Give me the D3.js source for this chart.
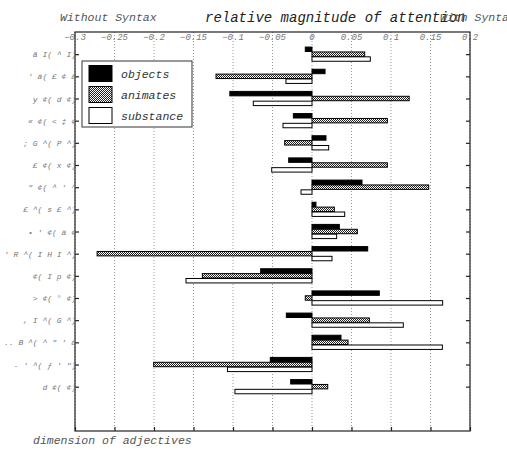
<!DOCTYPE html>
<html>
<head>
<meta charset="utf-8">
<script src="https://cdn.jsdelivr.net/npm/d3@7"></script>
<style>
  html, body { margin: 0; padding: 0; background: #fff; overflow: hidden; }
  svg { display: block; }
  text { font-family: "Liberation Mono", "DejaVu Sans Mono", monospace; font-style: italic; }
</style>
</head>
<body>
<svg id="chart" width="507" height="451"></svg>
<script>
// category labels (garbled adjective names, as in the source)
const categories = [
  "ã I( ^ I)",
  "' ä( £ ¢ ä",
  "y ¢( d ¢)",
  "« ¢( < ‡ ¢",
  "; G ^( P   ^)",
  "£   ¢( x ¢)",
  "\"   ¢( ^ ' ^",
  "£ ^( s   £ ^)",
  "• ' ¢(   ä ¢",
  "' R ^( I H I ^)",
  "¢( I p ¢)",
  "> ¢( ° ¢)",
  ", I ^( G ^)",
  "^ .. B ^( ^ \" ' ä",
  "-     ' ^( ƒ     ' \")",
  "d ¢(     ¢)"
];

const objects   = [-0.0085, 0.0165, -0.104, -0.0236, 0.0177, -0.0295, 0.0633, 0.005, 0.0346, 0.0705, -0.065, 0.0852, -0.0325, 0.0367, -0.0528, -0.027];
const animates  = [0.0667, -0.1215, 0.123, 0.0954, -0.0346, 0.0954, 0.1477, 0.0283, 0.0574, -0.272, -0.1388, -0.0085, 0.0726, 0.0456, -0.2004, 0.0199];
const substance = [0.0738, -0.033, -0.0743, -0.0367, 0.0211, -0.051, -0.0139, 0.0414, 0.0312, 0.0253, -0.1595, 0.1654, 0.1156, 0.165, -0.107, -0.0975];

const seriesNames = ["objects", "animates", "substance"];
const xTicks = [-0.3, -0.25, -0.2, -0.15, -0.1, -0.05, 0, 0.05, 0.1, 0.15, 0.2];

const svg = d3.select("#chart");
const box = { left: 75, right: 470, top: 32, bottom: 431 };

const x = d3.scaleLinear().domain([-0.3, 0.2]).range([box.left, box.right]);
// categories sit at 1..16 on a 0..18 axis, top to bottom
const y = d3.scaleLinear().domain([0, 18]).range([box.top, box.bottom]);
const barOffset = d3.scaleLinear().domain([0, 2]).range([-0.22, 0.22]);
const barH = y(0.2) - y(0);

// hatched fill for "animates"
const defs = svg.append("defs");
const pat = defs.append("pattern")
  .attr("id", "hatch").attr("width", 2).attr("height", 2)
  .attr("patternUnits", "userSpaceOnUse");
pat.append("rect").attr("width", 2).attr("height", 2).attr("fill", "#fff");
pat.append("rect").attr("x", 0).attr("y", 0).attr("width", 1).attr("height", 1).attr("fill", "#222");
pat.append("rect").attr("x", 1).attr("y", 1).attr("width", 1).attr("height", 1).attr("fill", "#222");

const fills = ["#000", "url(#hatch)", "#fff"];

// dotted grid
svg.append("g")
  .selectAll("line")
  .data(xTicks)
  .join("line")
    .attr("x1", d => x(d)).attr("x2", d => x(d))
    .attr("y1", box.top).attr("y2", box.bottom)
    .attr("stroke", "#999")
    .attr("stroke-width", 1)
    .attr("stroke-dasharray", "1,2");

// tick labels along the top, inside the box
svg.append("g")
  .selectAll("text")
  .data(xTicks)
  .join("text")
    .attr("x", d => x(d))
    .attr("y", box.top + 8)
    .attr("text-anchor", "middle")
    .attr("font-size", "9px")
    .attr("fill", "#777")
    .text(d => d3.format("")(d));

// bars
const groups = [objects, animates, substance];
groups.forEach((vals, s) => {
  svg.append("g")
    .selectAll("rect")
    .data(vals)
    .join("rect")
      .attr("x", d => x(Math.min(0, d)))
      .attr("width", d => Math.abs(x(d) - x(0)))
      .attr("y", (d, i) => y(i + 1 + barOffset(s)) - barH / 2)
      .attr("height", barH)
      .attr("fill", fills[s])
      .attr("stroke", "#000")
      .attr("stroke-width", 1);
});

// axes box
svg.append("rect")
  .attr("x", box.left).attr("y", box.top)
  .attr("width", box.right - box.left).attr("height", box.bottom - box.top)
  .attr("fill", "none").attr("stroke", "#222").attr("stroke-width", 1.2);

// bottom inward ticks
svg.append("g")
  .attr("transform", `translate(0,${box.bottom})`)
  .call(d3.axisTop(x).tickValues(xTicks).tickSize(4).tickFormat(""))
  .call(g => g.select(".domain").remove())
  .selectAll("line").attr("stroke", "#222").attr("stroke-width", 1.2);

// left ticks + labels
const left = svg.append("g")
  .attr("transform", `translate(${box.left},0)`)
  .call(d3.axisRight(y).tickValues(d3.range(1, categories.length + 1)).tickSize(4)
    .tickFormat(d => categories[d - 1]).tickPadding(-3))
  .call(g => g.select(".domain").remove());
left.selectAll("line").attr("stroke", "#222").attr("stroke-width", 1.2);
left.selectAll("text")
  .attr("text-anchor", "end")
  .attr("x", 1)
  .attr("font-size", "8px")
  .attr("fill", "#777")
  .attr("font-family", null);

// right inward ticks
svg.append("g")
  .attr("transform", `translate(${box.right},0)`)
  .call(d3.axisLeft(y).tickValues(d3.range(1, categories.length + 1)).tickSize(4).tickFormat(""))
  .call(g => g.select(".domain").remove())
  .selectAll("line").attr("stroke", "#222").attr("stroke-width", 1.2);

// titles
svg.append("text").attr("x", 60).attr("y", 21)
  .attr("font-size", "11.5px").attr("fill", "#555").text("Without Syntax");
svg.append("text").attr("x", 205).attr("y", 22)
  .attr("font-size", "14px").attr("fill", "#222").text("relative magnitude of attention");
svg.append("text").attr("x", 440).attr("y", 21)
  .attr("font-size", "11.5px").attr("fill", "#555").text("With Syntax");
svg.append("text").attr("x", 33).attr("y", 444)
  .attr("font-size", "11.5px").attr("fill", "#555").text("dimension of adjectives");

// legend
const legend = svg.append("g").attr("transform", "translate(82,61)");
legend.append("rect")
  .attr("width", 110).attr("height", 66)
  .attr("fill", "#fff").attr("stroke", "#333").attr("stroke-width", 1);
seriesNames.forEach((name, s) => {
  legend.append("rect")
    .attr("x", 7).attr("y", 4.5 + s * 21)
    .attr("width", 23).attr("height", 16)
    .attr("fill", fills[s]).attr("stroke", "#000").attr("stroke-width", 1);
  legend.append("text")
    .attr("x", 39).attr("y", 17 + s * 21)
    .attr("font-size", "11.5px").attr("fill", "#333")
    .text(name);
});
</script>
</body>
</html>
